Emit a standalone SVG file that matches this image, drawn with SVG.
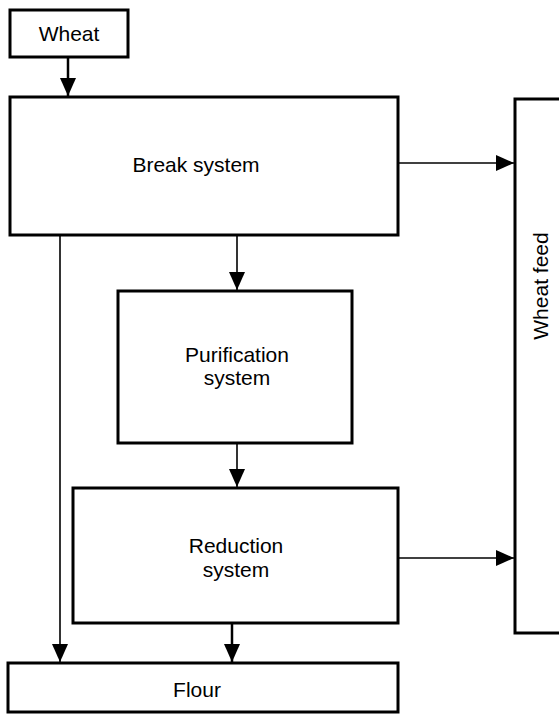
<svg xmlns="http://www.w3.org/2000/svg" width="559" height="715" viewBox="0 0 559 715">
<style>
.box{fill:#fff;stroke:#000;stroke-width:3}
.lbl{font-family:"Liberation Sans",Arial,sans-serif;font-size:21px;fill:#000;text-anchor:middle}
.con{stroke:#000;stroke-width:1.6;fill:none}
</style>
<defs>
<marker id="ah" markerUnits="userSpaceOnUse" markerWidth="18" markerHeight="16" refX="18" refY="8" orient="auto">
<path d="M0,0 L18,8 L0,16 Z" fill="#000"/>
</marker>
</defs>
<rect width="559" height="715" fill="#fff"/>
<g id="connectors">
<line class="con" x1="68" y1="57" x2="68" y2="96" marker-end="url(#ah)" style="stroke-width:2.5"/>
<line class="con" x1="398" y1="163" x2="514" y2="163" marker-end="url(#ah)"/>
<line class="con" x1="237" y1="235" x2="237" y2="290" marker-end="url(#ah)"/>
<line class="con" x1="237" y1="443" x2="237" y2="487" marker-end="url(#ah)"/>
<line class="con" x1="398" y1="558" x2="514" y2="558" marker-end="url(#ah)"/>
<line class="con" x1="60" y1="235" x2="60" y2="662" marker-end="url(#ah)"/>
<line class="con" x1="232" y1="623" x2="232" y2="662" marker-end="url(#ah)" style="stroke-width:2.5"/>
</g>
<g id="wheat">
<rect class="box" x="10" y="10" width="118" height="47"/>
<text class="lbl" x="69" y="41">Wheat</text>
</g>
<g id="break">
<rect class="box" x="10" y="97" width="388" height="138"/>
<text class="lbl" x="196" y="172">Break system</text>
</g>
<g id="purification">
<rect class="box" x="118" y="291" width="234" height="152"/>
<text class="lbl" x="237" y="362">Purification</text>
<text class="lbl" x="237" y="385">system</text>
</g>
<g id="reduction">
<rect class="box" x="73" y="488" width="325" height="135"/>
<text class="lbl" x="236" y="553">Reduction</text>
<text class="lbl" x="236" y="577">system</text>
</g>
<g id="flour">
<rect class="box" x="8" y="663" width="390" height="49"/>
<text class="lbl" x="197" y="697">Flour</text>
</g>
<g id="wheatfeed">
<rect class="box" x="515" y="99" width="60" height="534"/>
<text class="lbl" transform="translate(548,286) rotate(-90)" x="0" y="0">Wheat feed</text>
</g>
</svg>
